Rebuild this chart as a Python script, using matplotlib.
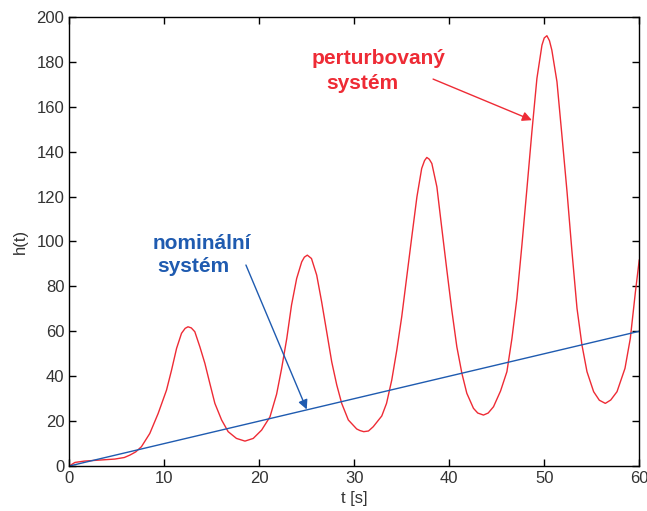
import matplotlib
matplotlib.use('Agg')
import matplotlib.pyplot as plt

plt.rcParams['font.family'] = ['Liberation Sans', 'DejaVu Sans']

# perturbovany system
t_pert = [0, 0.6, 1.6, 3.0, 4.8, 5.8, 6.4, 7.0, 7.6, 8.48, 9.36, 10.24, 10.77,
          11.3, 11.82, 12.2, 12.5, 12.85, 13.22, 13.75, 14.28, 14.8, 15.33,
          16.04, 16.73, 17.6, 18.5, 19.37, 20.25, 21.13, 21.83, 22.36, 22.9,
          23.4, 23.94, 24.47, 24.75, 25.06, 25.5, 26.05, 26.57, 27.1, 27.63,
          28.16, 28.68, 29.38, 30.26, 30.6, 31.0, 31.5, 32.0, 32.9, 33.4,
          33.95, 34.48, 35.0, 35.53, 36.06, 36.6, 37.1, 37.4, 37.64, 37.9,
          38.17, 38.7, 39.2, 39.75, 40.27, 40.8, 41.33, 41.85, 42.55, 43.0,
          43.6, 44.1, 44.66, 45.4, 46.07, 46.6, 47.12, 47.65, 48.18, 48.7,
          49.23, 49.76, 50.0, 50.28, 50.55, 50.8, 51.34, 51.86, 52.4, 52.92,
          53.45, 53.97, 54.5, 55.2, 55.8, 56.43, 57.0, 57.66, 58.5, 59.06,
          59.6, 60]
h_pert = [0, 1.6, 2.2, 2.6, 3.1, 3.8, 4.9, 6.3, 8.6, 14.5, 23.4, 33.8, 42.7,
          52.4, 59.1, 61.3, 62.0, 61.5, 59.8, 53.1, 45.7, 36.8, 27.9,
          20.5, 15.3, 12.3, 11.1, 12.3, 16.0, 21.9, 32.0, 43.5, 56.8,
          71.7, 83.5, 90.9, 93.0, 93.9, 92.4, 85.0, 73.1, 59.8, 46.4,
          36.1, 27.9, 20.5, 16.5, 15.8, 15.3, 15.6, 17.5, 22.3, 27.9,
          38.3, 51.6, 66.5, 84.3, 102.1, 119.9, 132.5, 136.0, 137.4, 136.6,
          134.7, 124.3, 106.5, 87.2, 69.4, 53.1, 41.3, 32.4, 25.7, 23.6,
          22.7, 23.6, 26.4, 33.4, 42.0, 56.8, 74.6, 98.4, 123.6, 148.8,
          172.6, 187.4, 190.6, 191.6, 189.4, 185.2, 171.1, 147.3, 122.1, 95.4,
          70.2, 53.9, 42.0, 33.1, 29.3, 27.9, 29.4, 33.1, 43.5, 56.8,
          77.6, 91.7]

# nominalni system
t_nom = [0, 60]
h_nom = [0, 60]

red = '#EE2B35'
blue = '#1F5BB0'

fig = plt.figure(figsize=(6.47, 5.11), dpi=100)
ax = fig.add_axes([0.107, 0.088, 0.881, 0.879])

ax.plot(t_pert, h_pert, color=red, lw=1.0)
ax.plot(t_nom, h_nom, color=blue, lw=1.0)

ax.set_xlim(0, 60)
ax.set_ylim(0, 200)
ax.set_xticks(range(0, 61, 10))
ax.set_yticks(range(0, 201, 20))
ax.tick_params(direction='in', length=5, top=True, right=True,
               labelsize=12, labelcolor='#333333', width=1)
for s in ax.spines.values():
    s.set_linewidth(1.0)

ax.set_xlabel('t [s]', fontsize=12, color='#333333', labelpad=4)
ax.set_ylabel('h(t)', fontsize=12, color='#333333', labelpad=6)

# popisky
ax.text(32.6, 181.5, 'perturbovaný', color=red, fontsize=15,
        fontweight='bold', ha='center', va='center')
ax.text(30.9, 170.3, 'systém', color=red, fontsize=15,
        fontweight='bold', ha='center', va='center')
ax.annotate('', xy=(48.7, 154), xytext=(38.3, 172.3),
            arrowprops=dict(arrowstyle='-|>', color=red, lw=1.0,
                            mutation_scale=14, shrinkA=0, shrinkB=0))

ax.text(14.0, 99.2, 'nominální', color=blue, fontsize=15,
        fontweight='bold', ha='center', va='center')
ax.text(13.1, 88.7, 'systém', color=blue, fontsize=15,
        fontweight='bold', ha='center', va='center')
ax.annotate('', xy=(25.0, 25.2), xytext=(18.6, 89.5),
            arrowprops=dict(arrowstyle='-|>', color=blue, lw=1.0,
                            mutation_scale=14, shrinkA=0, shrinkB=0))

fig.savefig('out.png', dpi=100)
